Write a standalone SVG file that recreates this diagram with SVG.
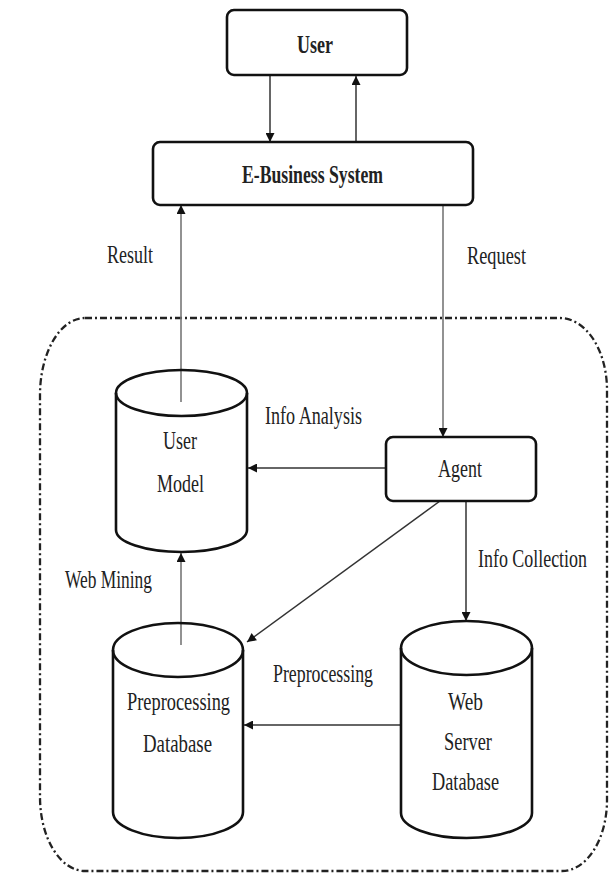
<svg xmlns="http://www.w3.org/2000/svg" width="616" height="886" viewBox="0 0 616 886">
<style>
.box{fill:#fff;stroke:#111;stroke-width:2.6}
.cyl{fill:none;stroke:#111;stroke-width:2.6}
.ln{fill:none;stroke:#333;stroke-width:1.5}
.lt{fill:none;stroke:#777;stroke-width:1.6}
.t{font-family:"Liberation Serif","Times New Roman",serif;font-size:26px;fill:#222}
.b{font-weight:bold}
.bd{fill:none;stroke:#222;stroke-width:2.3;stroke-dasharray:7 3 2 3}
</style>
<defs>
<marker id="ah" viewBox="0 0 10 10" refX="10" refY="5" markerWidth="10" markerHeight="9" markerUnits="userSpaceOnUse" orient="auto">
<path d="M0 0 L10 5 L0 10 Z" fill="#111"/>
</marker>
</defs>
<path class="bd" d="M85 318 L560 318 A47 72 0 0 1 607 390 L607 800 A45 71 0 0 1 562 871 L85 871 A45 74 0 0 1 40 797 L40 395 A45 77 0 0 1 85 318 Z"/>
<g id="connectors">
<line class="ln" x1="270" y1="75" x2="270" y2="142" marker-end="url(#ah)"/>
<line class="ln" x1="356" y1="142" x2="356" y2="76" marker-end="url(#ah)"/>
<line class="lt" x1="181" y1="402" x2="181" y2="205" marker-end="url(#ah)"/>
<line class="lt" x1="443" y1="205" x2="443" y2="437" marker-end="url(#ah)"/>
<line class="ln" x1="386" y1="468" x2="248" y2="468" marker-end="url(#ah)"/>
<line class="lt" x1="181" y1="645" x2="181" y2="553" marker-end="url(#ah)"/>
<line class="ln" x1="440" y1="501" x2="247" y2="642" marker-end="url(#ah)"/>
<line class="ln" x1="466" y1="501" x2="466" y2="621" marker-end="url(#ah)"/>
<line class="ln" x1="401" y1="725" x2="244" y2="725" marker-end="url(#ah)"/>
</g>
<g id="user">
<rect class="box" x="227" y="10" width="180" height="65" rx="7"/>
<text class="t b" x="297" y="53" textLength="36" lengthAdjust="spacingAndGlyphs">User</text>
</g>
<g id="ebusiness">
<rect class="box" x="153" y="142" width="320" height="63" rx="7"/>
<text class="t b" x="242" y="183" textLength="141" lengthAdjust="spacingAndGlyphs">E-Business System</text>
</g>
<g id="agent">
<rect class="box" x="386" y="437" width="150" height="64" rx="7"/>
<text class="t" x="438" y="477" textLength="44" lengthAdjust="spacingAndGlyphs">Agent</text>
</g>
<g id="usermodel">
<path class="cyl" d="M116 393 L116 530 A65.5 22 0 0 0 247 530 L247 393"/>
<ellipse class="cyl" cx="181.5" cy="393" rx="65.5" ry="23"/>
<text class="t" x="163" y="449" textLength="34" lengthAdjust="spacingAndGlyphs">User</text>
<text class="t" x="157" y="492" textLength="47" lengthAdjust="spacingAndGlyphs">Model</text>
</g>
<g id="preprocdb">
<path class="cyl" d="M113 650 L113 812 A65 26 0 0 0 243 812 L243 650"/>
<ellipse class="cyl" cx="178" cy="650" rx="65" ry="27"/>
<text class="t" x="127" y="710" textLength="103" lengthAdjust="spacingAndGlyphs">Preprocessing</text>
<text class="t" x="143" y="752" textLength="69" lengthAdjust="spacingAndGlyphs">Database</text>
</g>
<g id="webserverdb">
<path class="cyl" d="M401 648 L401 813 A65.5 25 0 0 0 532 813 L532 648"/>
<ellipse class="cyl" cx="466.5" cy="648" rx="65.5" ry="27"/>
<text class="t" x="448" y="710" textLength="35" lengthAdjust="spacingAndGlyphs">Web</text>
<text class="t" x="444" y="750" textLength="48" lengthAdjust="spacingAndGlyphs">Server</text>
<text class="t" x="432" y="790" textLength="67" lengthAdjust="spacingAndGlyphs">Database</text>
</g>
<g id="labels">
<text class="t" x="107" y="263" textLength="46" lengthAdjust="spacingAndGlyphs">Result</text>
<text class="t" x="467" y="264" textLength="59" lengthAdjust="spacingAndGlyphs">Request</text>
<text class="t" x="265" y="424" textLength="97" lengthAdjust="spacingAndGlyphs">Info Analysis</text>
<text class="t" x="478" y="567" textLength="109" lengthAdjust="spacingAndGlyphs">Info Collection</text>
<text class="t" x="65" y="588" textLength="87" lengthAdjust="spacingAndGlyphs">Web Mining</text>
<text class="t" x="273" y="682" textLength="100" lengthAdjust="spacingAndGlyphs">Preprocessing</text>
</g>
</svg>
